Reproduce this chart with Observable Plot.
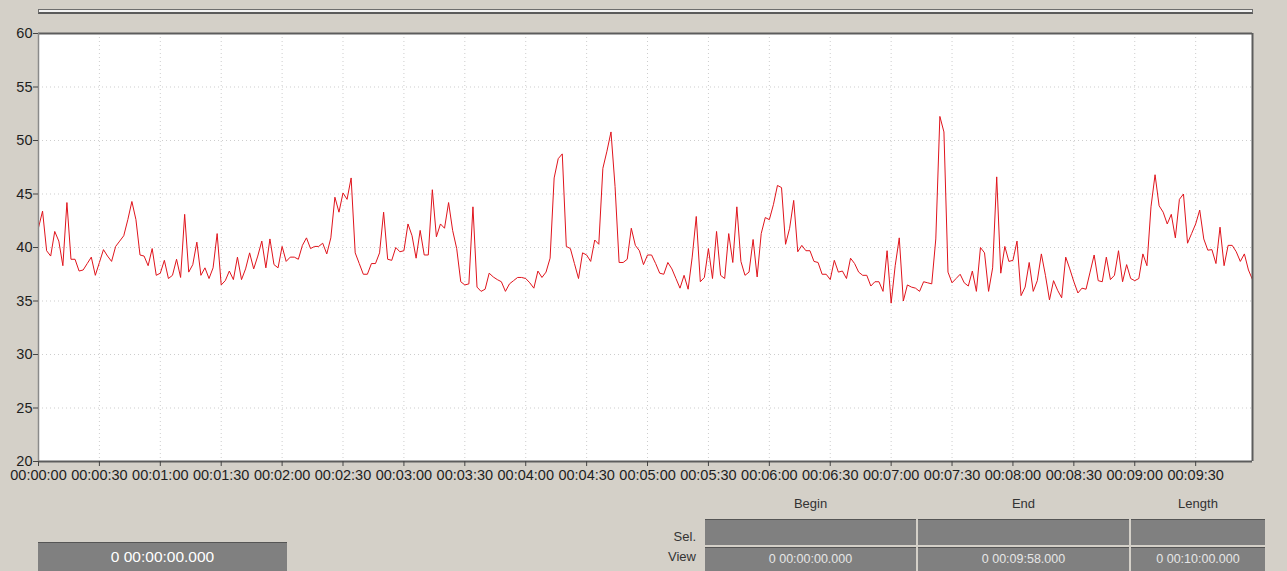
<!DOCTYPE html>
<html>
<head>
<meta charset="utf-8">
<script src="https://cdn.jsdelivr.net/npm/d3@7"></script>
<script src="https://cdn.jsdelivr.net/npm/@observablehq/plot@0.6"></script>
<style>
  html, body { margin: 0; padding: 0; }
  body { width: 1287px; height: 571px; background: #d4d0c8; position: relative; overflow: hidden;
         font-family: "Liberation Sans", Arial, sans-serif; }
  #chart { position: absolute; left: 0; top: 0; }
  .topbar { position: absolute; left: 38px; top: 9px; width: 1213px; height: 2px;
            border: 1px solid #6e6e6e; border-bottom: 2px solid #5a5a5a; background: #f2f2f2; }
  .box { position: absolute; background: #808080; color: #fff; text-align: center; box-sizing: border-box; }
  .lbl { position: absolute; color: #333; font-size: 13px; }
</style>
</head>
<body>
<div class="topbar"></div>
<div id="chart"></div>
<div id="panel"></div>
<script>
// ---- data: one sample every 2 s, from 00:00:00 to 00:09:58 ----
const sampleInterval = 2;
const values = [
  41.85, 43.4, 39.7, 39.2, 41.5, 40.6, 38.3, 44.2, 38.9, 38.9,
  37.8, 37.9, 38.5, 39.1, 37.4, 38.6, 39.8, 39.2, 38.7, 40.1,
  40.6, 41.1, 42.6, 44.3, 42.6, 39.3, 39.2, 38.3, 39.9, 37.4,
  37.6, 38.8, 37.1, 37.4, 38.9, 37.2, 43.1, 37.7, 38.4, 40.5,
  37.4, 38.1, 37.1, 38.1, 41.3, 36.5, 36.9, 37.8, 37.0, 39.1,
  37.0, 38.0, 39.5, 38.0, 39.2, 40.6, 38.1, 40.8, 38.4, 38.1,
  40.1, 38.7, 39.1, 39.1, 38.9, 40.2, 40.9, 39.9, 40.1, 40.1,
  40.4, 39.4, 40.9, 44.7, 43.3, 45.1, 44.5, 46.5, 39.5, 38.5,
  37.5, 37.5, 38.5, 38.5, 39.5, 43.3, 38.9, 38.8, 40.0, 39.6,
  39.7, 42.2, 41.1, 39.0, 41.6, 39.3, 39.3, 45.4, 41.0, 42.2,
  41.8, 44.2, 41.6, 39.9, 36.8, 36.5, 36.6, 43.8, 36.3, 35.9,
  36.1, 37.6, 37.25, 37.0, 36.8, 35.9, 36.6, 36.9, 37.2, 37.2,
  37.1, 36.7, 36.2, 37.8, 37.2, 37.7, 39.0, 46.5, 48.3, 48.75,
  40.1, 39.9, 38.5, 37.1, 39.5, 39.3, 38.7, 40.7, 40.3, 47.4,
  49.0, 50.8, 45.7, 38.6, 38.6, 38.9, 41.8, 40.2, 39.7, 38.4,
  39.3, 39.3, 38.5, 37.6, 37.5, 38.6, 38.0, 37.1, 36.2, 37.4,
  36.1, 39.1, 42.9, 36.8, 37.2, 39.9, 37.1, 41.5, 37.4, 37.1,
  41.3, 38.6, 43.8, 38.7, 37.4, 37.7, 40.75, 37.25, 41.3, 42.8,
  42.6, 44.0, 45.8, 45.6, 40.3, 41.8, 44.4, 39.6, 40.2, 39.7,
  39.7, 38.7, 38.6, 37.5, 37.5, 37.0, 38.8, 37.7, 37.8, 37.1,
  39.0, 38.5, 37.7, 37.4, 37.4, 36.4, 36.8, 36.8, 35.9, 39.7,
  34.8, 38.3, 40.9, 35.0, 36.5, 36.3, 36.2, 35.9, 36.8, 36.7,
  36.6, 40.8, 52.25, 50.8, 37.7, 36.7, 37.1, 37.5, 36.7, 36.4,
  37.8, 35.9, 40.0, 39.5, 35.9, 38.1, 46.6, 37.6, 40.1, 38.7,
  38.8, 40.6, 35.5, 36.3, 38.6, 35.9, 36.9, 39.4, 37.4, 35.1,
  36.9, 36.0, 35.3, 39.1, 38.0, 36.8, 35.75, 36.2, 36.1, 37.7,
  39.3, 36.9, 36.8, 39.1, 37.0, 37.4, 39.7, 36.8, 38.4, 37.1,
  36.9, 37.1, 39.4, 38.3, 43.8, 46.8, 43.9, 43.3, 42.2, 43.1,
  40.9, 44.5, 45.0, 40.4, 41.3, 42.2, 43.5, 40.8, 39.75, 39.8,
  38.5, 41.9, 38.3, 40.2, 40.2, 39.6, 38.7, 39.4, 37.9, 37.0
];
const viewDomain = [0, 598];
const xTickSeconds = [0, 30, 60, 90, 120, 150, 180, 210, 240, 270, 300, 330, 360, 390, 420, 450, 480, 510, 540, 570];
const xTickLabels = ["00:00:00","00:00:30","00:01:00","00:01:30","00:02:00","00:02:30","00:03:00","00:03:30","00:04:00","00:04:30",
                     "00:05:00","00:05:30","00:06:00","00:06:30","00:07:00","00:07:30","00:08:00","00:08:30","00:09:00","00:09:30"];
const yTicks = [20, 25, 30, 35, 40, 45, 50, 55, 60];
const yDomain = [20, 60];

// panel texts
const cursorText = "0 00:00:00.000";
const colHeaders = ["Begin", "End", "Length"];
const rowHeaders = ["Sel.", "View"];
const selRow = ["", "", ""];
const viewRow = ["0 00:00:00.000", "0 00:09:58.000", "0 00:10:00.000"];

const data = values.map((v, i) => ({ t: i * sampleInterval, v }));
const labelOf = new Map(xTickSeconds.map((s, i) => [s, xTickLabels[i]]));

const chart = Plot.plot({
  width: 1287,
  height: 490,
  marginLeft: 38,
  marginRight: 35,
  marginTop: 33,
  marginBottom: 29,
  style: { background: "transparent", fontFamily: "'Liberation Sans', Arial, sans-serif", fontSize: "14.5px", color: "#1e1e1e" },
  x: { domain: viewDomain },
  y: { domain: yDomain },
  marks: [
    Plot.frame({ fill: "white", stroke: "none" }),
    Plot.gridX(xTickSeconds, { stroke: "#cdcdcd", strokeOpacity: 1, strokeDasharray: "1,3" }),
    Plot.gridY(yTicks, { stroke: "#cdcdcd", strokeOpacity: 1, strokeDasharray: "1,3" }),
    Plot.line(data, { x: "t", y: "v", stroke: "#e0141c", strokeWidth: 1 }),
    Plot.ruleY([yDomain[1]], { stroke: "#5c5c5c", strokeWidth: 2 }),
    Plot.ruleY([yDomain[0]], { stroke: "#5c5c5c", strokeWidth: 2 }),
    Plot.ruleX([viewDomain[0]], { stroke: "#8a8a8a", strokeWidth: 1.5 }),
    Plot.ruleX([viewDomain[1]], { stroke: "#5c5c5c", strokeWidth: 2 }),
    Plot.axisX(xTickSeconds, { tickFormat: d => labelOf.get(d), tickSize: 5, tickPadding: 3, stroke: "#444", label: null }),
    Plot.axisY(yTicks, { tickSize: 5, tickPadding: 1, stroke: "#444", label: null })
  ]
});
document.getElementById("chart").appendChild(chart);

// ---- bottom panel ----
const panel = document.getElementById("panel");
function add(cls, css, text) {
  const d = document.createElement("div");
  d.className = cls;
  Object.assign(d.style, css);
  d.textContent = text;
  panel.appendChild(d);
  return d;
}
add("box", { left: "38px", top: "542px", width: "249px", height: "30px", lineHeight: "28px",
             fontSize: "15.5px", borderTop: "1px solid #555" }, cursorText);

const colLeft = [705, 918, 1131];
const colWidth = [211, 211, 134];
colHeaders.forEach((h, i) => add("lbl", { left: colLeft[i] + "px", width: colWidth[i] + "px", top: "496px", textAlign: "center" }, h));
rowHeaders.forEach((h, i) => add("lbl", { left: "640px", width: "56px", top: (i === 0 ? 529 : 549) + "px", textAlign: "right" }, h));
selRow.forEach((t, i) => add("box", { left: colLeft[i] + "px", top: "519px", width: colWidth[i] + "px", height: "26px",
                                      borderTop: "1px solid #555", fontSize: "12.5px", lineHeight: "26px" }, t));
viewRow.forEach((t, i) => add("box", { left: colLeft[i] + "px", top: "547px", width: colWidth[i] + "px", height: "25px",
                                       borderTop: "1px solid #555", fontSize: "12.5px", lineHeight: "22px", color: "#e6e6e6" }, t));
</script>
</body>
</html>
